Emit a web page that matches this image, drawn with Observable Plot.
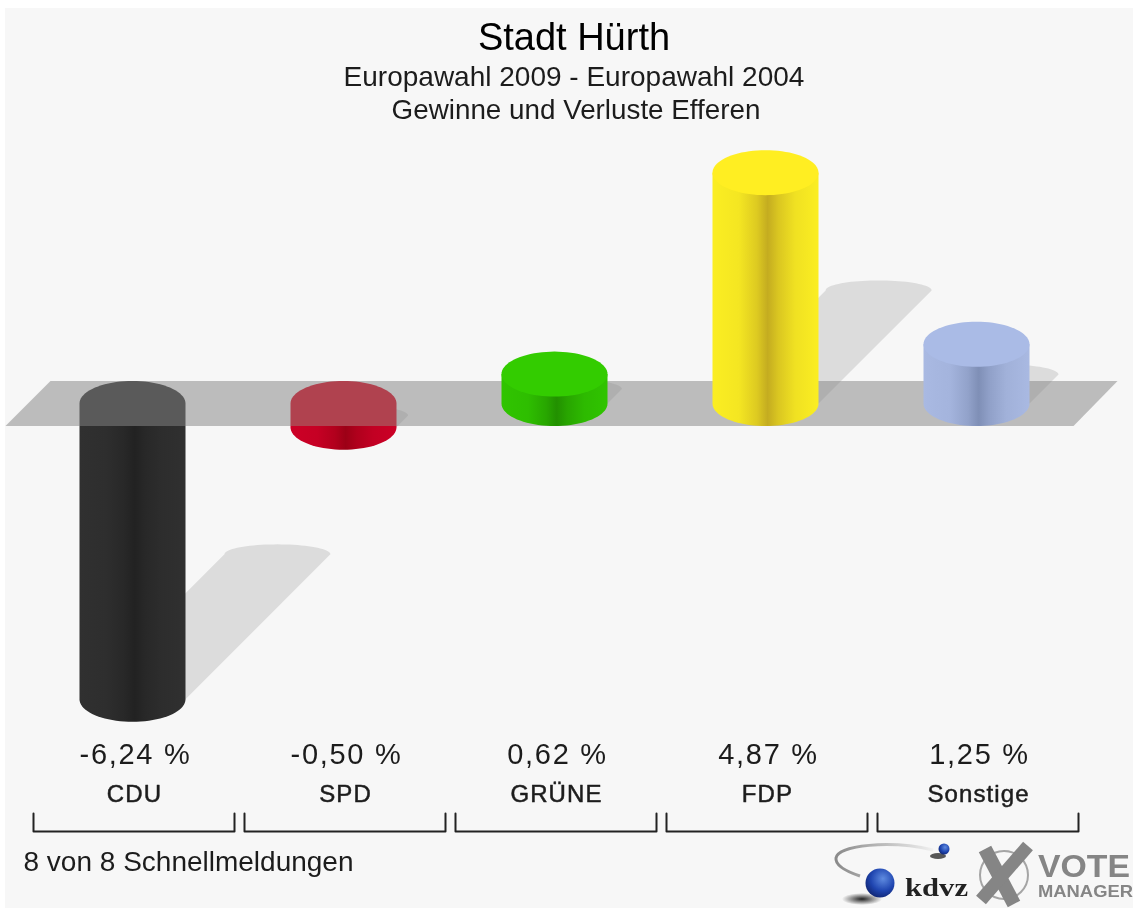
<!DOCTYPE html>
<html><head><meta charset="utf-8">
<script src="https://cdn.jsdelivr.net/npm/d3@7"></script>
<script src="https://cdn.jsdelivr.net/npm/@observablehq/plot@0.6"></script>
<style>
html,body{margin:0;padding:0;background:#fff;overflow:hidden}
#panel{position:absolute;left:5px;top:8px;right:0;bottom:3px;background:#f7f7f7}
#chart{position:absolute;left:0;top:0}
svg{display:block}
.vals text{letter-spacing:1.7px}
.names text{letter-spacing:1.1px}
</style></head><body>
<div id="panel"></div><div id="chart"></div>
<script>
const categories = ["CDU","SPD","GRÜNE","FDP","Sonstige"];
const values = [-6.24,-0.50,0.62,4.87,1.25];
const valueLabels = ["-6,24 %","-0,50 %","0,62 %","4,87 %","1,25 %"];
const capColors = ["#2a2a2a","#be0018","#33cc00","#ffee22","#aabbe6"];
const edgeColors = ["#303030","#cc0026","#30c400","#fbee22","#a9b9e2"];
const midColors = ["#222222","#9c0016","#229000","#c4ac20","#7f8fb6"];

const W = 1133, H = 911, PXY = 47.4, PXX = 211, X0 = 132, Y0 = 403;
const rx = 53/PXX, ry = 22.5/PXY, shadowRy = 10/PXY;
const xv = px => (px - X0)/PXX, yv = py => (Y0 - py)/PXY;
const bars = categories.map((name,i)=>({name,i,v:values[i],label:valueLabels[i]}));

const arc = (cx,cy,ryy,a0,a1,n=40) => d3.range(n+1).map(k=>{
  const t = a0+(a1-a0)*k/n;
  return {x:cx+rx*Math.cos(t), y:cy+ryy*Math.sin(t)};
});
const poly = (pts,opts) => Plot.line(pts.concat(pts[0]),{x:"x",y:"y",curve:"linear",stroke:"none",strokeWidth:0,...opts});

const bodyPts = b => b.v>=0
  ? [{x:b.i-rx,y:b.v},{x:b.i+rx,y:b.v},...arc(b.i,0,ry,0,-Math.PI)]
  : [{x:b.i-rx,y:-ry},{x:b.i+rx,y:-ry},...arc(b.i,b.v,ry,0,-Math.PI)];
const capPts = b => b.v>=0
  ? arc(b.i,b.v,ry,0,2*Math.PI,80)
  : [...arc(b.i,0,ry,Math.PI,0),{x:b.i+rx,y:-ry},{x:b.i-rx,y:-ry}];
const shadowPts = b => {
  const a=Math.abs(b.v), base=b.v>=0?0:b.v, d=a*PXY*0.49/PXX, dy=a*0.49;
  return [{x:b.i-rx,y:base},...arc(b.i+d,base+dy,shadowRy,Math.PI,0),{x:b.i+rx,y:base}];
};
const planePts = [{x:xv(5),y:-ry},{x:xv(1073),y:-ry},{x:xv(1117),y:ry},{x:xv(50),y:ry}];
const bracket = b => {
  const c=b.i+1.5/PXX, h=100.5/PXX, t=yv(813), u=yv(831);
  return [{x:c-h,y:t},{x:c-h,y:u},{x:c+h,y:u},{x:c+h,y:t}];
};

const svgNS="http://www.w3.org/2000/svg";
const stops = i => {
  const mix = d3.interpolateRgb(edgeColors[i],midColors[i]);
  return [[0,0],[.25,.12],[.42,.55],[.52,1],[.62,.6],[.78,.2],[1,0]]
    .map(([o,m])=>`<stop offset="${o}" stop-color="${mix(m)}"/>`).join("");
};
const defsMark = () => {
  const g=document.createElementNS(svgNS,"g");
  g.innerHTML = "<defs>"+bars.map(b=>`<linearGradient id="grad${b.i}" x1="0" x2="1" y1="0" y2="0">${stops(b.i)}</linearGradient>`).join("")+
    `<linearGradient id="swoosh" x1="1" x2="0" y1="0" y2="0"><stop offset="0" stop-color="#f0f0f0"/><stop offset="1" stop-color="#8a8a8a"/></linearGradient>
     <radialGradient id="ball" cx=".6" cy=".35" r=".7"><stop offset="0" stop-color="#5f8be0"/><stop offset=".6" stop-color="#1f45b0"/><stop offset="1" stop-color="#0f2470"/></radialGradient>
     <radialGradient id="ballShadow"><stop offset="0" stop-color="#222"/><stop offset="1" stop-color="#222" stop-opacity="0"/></radialGradient></defs>`;
  return g;
};
const logoMark = () => {
  const g=document.createElementNS(svgNS,"g");
  g.innerHTML = `
  <path d="M933 850 C890 840 838 845 836 858 C835 866 848 872 860 876" fill="none" stroke="url(#swoosh)" stroke-width="3"/>
  <ellipse cx="862" cy="899" rx="20" ry="6" fill="url(#ballShadow)"/>
  <circle cx="880" cy="883" r="14.5" fill="url(#ball)"/>
  <ellipse cx="938" cy="856" rx="8" ry="3" fill="#222" opacity=".75"/>
  <circle cx="944" cy="849" r="5.5" fill="url(#ball)"/>
  <circle cx="1004" cy="875" r="24" fill="none" stroke="#a5a5a5" stroke-width="2"/>
  <path d="M985 849 L1014 904" stroke="#858585" stroke-width="14"/>
  <path d="M1028 846 L981 900" stroke="#858585" stroke-width="13"/>
  <text x="905" y="896" text-anchor="start" font-family="Liberation Serif" font-weight="bold" font-size="25" fill="#222" textLength="63" lengthAdjust="spacingAndGlyphs">kdvz</text>
  <text x="1038" y="877" text-anchor="start" font-family="Liberation Sans" font-weight="bold" font-size="31" fill="#858585" textLength="92" lengthAdjust="spacingAndGlyphs">VOTE</text>
  <text x="1038" y="897" text-anchor="start" font-family="Liberation Sans" font-weight="bold" font-size="16.5" fill="#858585" textLength="95" lengthAdjust="spacingAndGlyphs">MANAGER</text>`;
  return g;
};

const txt = (data,o) => Plot.text(data,{fontFamily:"Liberation Sans",fill:"#1c1c1c",lineAnchor:"bottom",...o});
const neg = bars.filter(b=>b.v<0), pos = bars.filter(b=>b.v>=0);

const plot = Plot.plot({
  width:W, height:H, margin:0,
  style:{background:"transparent",filter:"blur(0.6px)"},
  x:{type:"linear",domain:[xv(0),xv(W)],range:[0,W],axis:null},
  y:{type:"linear",domain:[yv(H),yv(0)],range:[H,0],axis:null},
  marks:[
    defsMark,
    poly(planePts,{fill:"#d3d3d3"}),
    ...bars.map(b=>poly(shadowPts(b),{fill:"#000",fillOpacity:0.105})),
    ...neg.map(b=>poly(bodyPts(b),{fill:`url(#grad${b.i})`})),
    ...neg.map(b=>poly(capPts(b),{fill:capColors[b.i]})),
    poly(planePts,{fill:"rgb(157,157,157)",fillOpacity:0.42}),
    ...pos.map(b=>poly(bodyPts(b),{fill:`url(#grad${b.i})`})),
    ...pos.map(b=>poly(capPts(b),{fill:capColors[b.i]})),
    ...bars.map(b=>Plot.line(bracket(b),{x:"x",y:"y",curve:"linear",stroke:"#222",strokeWidth:2})),
    txt(["Stadt Hürth"],{text:d=>d,frameAnchor:"top",dx:7,dy:49,fontSize:38,fill:"#000"}),
    txt(["Europawahl 2009 - Europawahl 2004"],{text:d=>d,frameAnchor:"top",dx:7,dy:85,fontSize:28}),
    txt(["Gewinne und Verluste Efferen"],{text:d=>d,frameAnchor:"top",dx:9,dy:118,fontSize:27.8}),
    txt(bars,{x:"i",text:"label",frameAnchor:"top",dx:3,dy:763,fontSize:29,className:"vals"}),
    txt(bars,{x:"i",text:"name",frameAnchor:"top",dx:2,dy:801,fontSize:24,stroke:"#1c1c1c",strokeWidth:0.5,className:"names"}),
    txt(["8 von 8 Schnellmeldungen"],{text:d=>d,frameAnchor:"top-left",textAnchor:"start",dx:23,dy:870,fontSize:28}),
    logoMark
  ]
});
document.getElementById("chart").appendChild(plot);
</script>
</body></html>
